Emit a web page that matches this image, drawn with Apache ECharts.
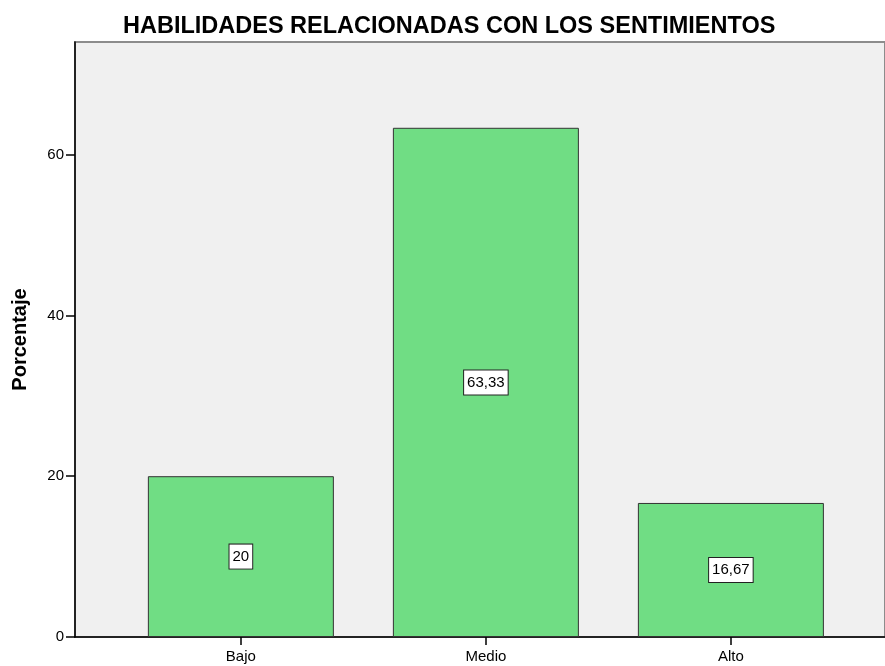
<!DOCTYPE html>
<html>
<head>
<meta charset="utf-8">
<script src="https://cdn.jsdelivr.net/npm/echarts@6/dist/echarts.min.js"></script>
<style>
  html, body { margin: 0; padding: 0; background: #fff; }
  #chart { width: 885px; height: 666px; }
</style>
</head>
<body>
<div id="chart"></div>
<script>
const categories = ['Bajo', 'Medio', 'Alto']
const percentages = [20, 63.33, 16.67]
const yTicks = [0, 20, 40, 60]
const xTicks = [0, 1, 2]

const font = '"Liberation Sans", Arial, sans-serif'
const chart = echarts.init(document.getElementById('chart'))

chart.setOption({
  animation: false,
  title: {
    text: 'HABILIDADES RELACIONADAS CON LOS SENTIMIENTOS',
    left: 118,
    top: 10,
    textStyle: { fontFamily: font, fontSize: 23.5, fontWeight: 'bold', color: '#000' },
  },
  grid: {
    left: 75, top: 42, right: -5, bottom: 29,
    show: true, backgroundColor: '#f0f0f0', borderColor: '#8c8c8c', borderWidth: 2,
  },
  xAxis: {
    type: 'value',
    min: -0.677,
    max: 2.629,
    splitLine: { show: false },
    axisLine: { show: true, onZero: false, lineStyle: { color: '#000', width: 1.5 } },
    axisTick: { show: true, customValues: xTicks, length: 8, lineStyle: { color: '#000', width: 1.5 } },
    axisLabel: {
      customValues: xTicks,
      formatter: (v) => categories[v] ?? '',
      margin: 12,
      fontFamily: font, fontSize: 15, color: '#000',
    },
  },
  yAxis: {
    type: 'value',
    min: 0,
    max: 74,
    name: 'Porcentaje',
    nameLocation: 'middle',
    nameGap: 45,
    nameTextStyle: { fontFamily: font, fontSize: 20, fontWeight: 'bold', color: '#000' },
    splitLine: { show: false },
    axisLine: { show: true, onZero: false, lineStyle: { color: '#000', width: 1.5 } },
    axisTick: { show: true, customValues: yTicks, length: 9, lineStyle: { color: '#000', width: 1.5 } },
    axisLabel: { customValues: yTicks, margin: 11, fontFamily: font, fontSize: 15, color: '#000' },
  },
  series: [{
    type: 'bar',
    data: percentages.map((value, i) => [i, value]),
    barWidth: 186,
    itemStyle: { color: '#70dd84', borderColor: '#333', borderWidth: 1 },
    label: {
      show: true,
      position: 'inside',
      formatter: (p) => String(p.value[1]).replace('.', ','),
      fontFamily: font, fontSize: 15, color: '#000',
      backgroundColor: '#fff', borderColor: '#222', borderWidth: 1,
      padding: [5, 3, 4, 3],
    },
  }],
})
</script>
</body>
</html>
